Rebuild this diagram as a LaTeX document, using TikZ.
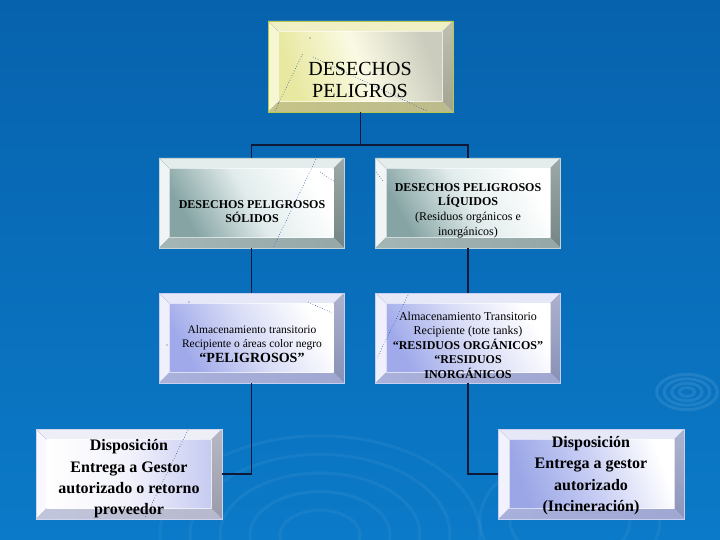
\documentclass[tikz,border=0pt]{standalone}
\usepackage{fontspec}
\setmainfont{Liberation Serif}
\usetikzlibrary{calc}
% colour sets: T top bevel, L left bevel, R right bevel, B bottom bevel, F/M/G face, D border
\definecolor{YT}{HTML}{F0F0C4}\definecolor{YL}{HTML}{F6F6D2}\definecolor{YR}{HTML}{A4A492}
\definecolor{YB}{HTML}{C6C488}\definecolor{YF}{HTML}{E8E8A0}\definecolor{YM}{HTML}{FAFAE4}
\definecolor{YG}{HTML}{CCCCBE}\definecolor{YD}{HTML}{B8C84C}
\definecolor{GT}{HTML}{E4ECEC}\definecolor{GL}{HTML}{F0F4F4}\definecolor{GR}{HTML}{748484}
\definecolor{GB}{HTML}{A4B6B6}\definecolor{GF}{HTML}{86A4A4}\definecolor{GM}{HTML}{E2ECEC}
\definecolor{GG}{HTML}{FFFFFF}\definecolor{GD}{HTML}{C4D4D4}
\definecolor{LT}{HTML}{E6E8F8}\definecolor{LL}{HTML}{F0F0FC}\definecolor{LR}{HTML}{8890B6}
\definecolor{LB}{HTML}{AAB2DC}\definecolor{LF}{HTML}{A0AAEA}\definecolor{LM}{HTML}{D8DCF6}
\definecolor{LG}{HTML}{FFFFFF}\definecolor{LD}{HTML}{C8CEF0}
\definecolor{WT}{HTML}{EEEEF6}\definecolor{WL}{HTML}{F8F8FE}\definecolor{WR}{HTML}{9A9AAA}
\definecolor{WB}{HTML}{C2C6DC}\definecolor{WF}{HTML}{FFFFFF}\definecolor{WM}{HTML}{F2F2FC}
\definecolor{WG}{HTML}{C6CAF0}\definecolor{WD}{HTML}{D0D4EC}
\definecolor{VT}{HTML}{E6E8F8}\definecolor{VL}{HTML}{F2F2FC}\definecolor{VR}{HTML}{8C94BA}
\definecolor{VB}{HTML}{A8B0DC}\definecolor{VF}{HTML}{9AA6E6}\definecolor{VM}{HTML}{C8CEF4}
\definecolor{VG}{HTML}{FFFFFF}\definecolor{VD}{HTML}{C8CEF0}
\definecolor{bgtop}{HTML}{0762AD}
\definecolor{bgbot}{HTML}{0B7AC8}
\definecolor{link}{HTML}{0E1838}
\definecolor{dots}{HTML}{1C4C9C}
\colorlet{bT}{GT}\colorlet{bL}{GL}\colorlet{bR}{GR}\colorlet{bB}{GB}
\colorlet{bF}{GF}\colorlet{bM}{GM}\colorlet{bG}{GG}\colorlet{bD}{GD}
\def\bang{120}
\tikzset{
  kind/.code={\colorlet{bT}{#1T}\colorlet{bL}{#1L}\colorlet{bR}{#1R}\colorlet{bB}{#1B}%
    \colorlet{bF}{#1F}\colorlet{bM}{#1M}\colorlet{bG}{#1G}\colorlet{bD}{#1D}},
  fang/.code={\def\bang{#1}},
  bevbox/.style={draw=bD, line width=0.8pt, inner sep=0pt,
    minimum width=185pt, minimum height=90pt,
    path picture={
      \def\bw{10.5pt}
      \coordinate (pNW) at (path picture bounding box.north west);
      \coordinate (pNE) at (path picture bounding box.north east);
      \coordinate (pSW) at (path picture bounding box.south west);
      \coordinate (pSE) at (path picture bounding box.south east);
      \coordinate (iNW) at ([xshift=\bw,yshift=-\bw]pNW);
      \coordinate (iNE) at ([xshift=-\bw,yshift=-\bw]pNE);
      \coordinate (iSW) at ([xshift=\bw,yshift=\bw]pSW);
      \coordinate (iSE) at ([xshift=-\bw,yshift=\bw]pSE);
      \fill[bT] (pNW) -- (pNE) -- (iNE) -- (iNW) -- cycle;
      \fill[bL] (pNW) -- (iNW) -- (iSW) -- (pSW) -- cycle;
      \shade[top color=bR!70!white, bottom color=bR] (pNE) -- (pSE) -- (iSE) -- (iNE) -- cycle;
      \shade[left color=bB, right color=bB!70!bR] (pSW) -- (iSW) -- (iSE) -- (pSE) -- cycle;
      \shade[left color=bF, right color=bG, middle color=bM, shading angle=\bang]
        (iNW) rectangle (iSE);
      \draw[white, opacity=0.6, line width=0.4pt] (iNW) rectangle (iSE);
      \draw[bR!60!white, line width=0.3pt] (pNW) -- (iNW) (pNE) -- (iNE) (pSW) -- (iSW) (pSE) -- (iSE);
    }},
  txt/.style={align=center, inner sep=0pt, text=black},
  conn/.style={draw=link, line width=1.1pt},
  speck/.style={draw=dots, line width=0.6pt, dotted},
  ripple/.style={draw=white, opacity=0.05, line width=3pt}
}
\begin{document}
\begin{tikzpicture}[x=1pt,y=-1pt]
\useasboundingbox (0,0) rectangle (720,540);
\shade[top color=bgtop, bottom color=bgbot] (0,0) rectangle (720,540);
% faint ripples
\begin{scope}
\clip (0,0) rectangle (720,540);
\foreach \r in {8,16,24,32}{\draw[ripple, opacity=0.09] (687,392) ellipse ({\r*0.95} and {\r*0.55});}
\foreach \r in {40,70,100,130,160}{\draw[ripple] (320,535) ellipse ({\r} and {\r*0.62});}
\foreach \r in {60,90}{\draw[ripple] (570,520) ellipse ({\r} and {\r*0.7});}
\end{scope}

% boxes
\node[bevbox, kind=Y, fang=110, minimum height=91pt] (T) at (360.5,66.5) {};
\node[bevbox, kind=G, fang=120] (M1) at (251.5,203) {};
\node[bevbox, kind=G, fang=120] (M2) at (468,203) {};
\node[bevbox, kind=L, fang=120] (L1) at (251.5,338) {};
\node[bevbox, kind=L, fang=120] (L2) at (468,338) {};
\node[bevbox, kind=W, fang=90, minimum width=186pt] (B1) at (129,474) {};
\node[bevbox, kind=V, fang=110, minimum width=186pt] (B2) at (591.5,474) {};

% connectors
\coordinate (J) at (360.5,145);
\draw[conn] (T.south) -- (J);
\draw[conn] (M1.north) |- (J) -| (M2.north);
\draw[conn] (M1.south) -- (L1.north);
\draw[conn] (M2.south) -- (L2.north);
\draw[conn] (L1.south) |- (B1.east);
\draw[conn] (L2.south) |- (B2.west);

% stray dotted specks
\draw[speck] (275,111) -- (303,53);
\fill[dots] (310,38) circle (0.6);
\draw[speck] (313,57) -- (427,111);
\draw[speck] (317,157) -- (273,248);
\draw[speck] (320,172) -- (335,182);
\draw[speck] (408,295) -- (377,358);
\draw[speck] (308,302) -- (332,313);
\fill[dots] (189,302) circle (0.6);
\fill[dots] (167,345) circle (0.6);
\draw[speck] (188,430) -- (145,518);
\draw[speck] (376,172) -- (384,182);

% texts
\node[txt, font=\fontsize{20}{22.5}\selectfont] (Tt) at (360,80) {DESECHOS\\PELIGROS};
\node[txt, font=\bfseries\fontsize{12}{13.5}\selectfont] (M1t) at (252,211.5) {DESECHOS PELIGROSOS\\SÓLIDOS};
\node[txt, font=\fontsize{12}{14.6}\selectfont] (M2t) at (468,210.5)
  {\textbf{DESECHOS PELIGROSOS}\\\textbf{LÍQUIDOS}\\(Residuos orgánicos e\\inorgánicos)};
\node[txt, font=\fontsize{11.5}{14}\selectfont] (L1t) at (252,344)
  {Almacenamiento transitorio\\Recipiente o áreas color negro\\[1.5pt]{\bfseries\fontsize{14}{16}\selectfont “PELIGROSOS”}};
\node[txt, font=\fontsize{12}{14.5}\selectfont] (L2t) at (468,345)
  {Almacenamiento Transitorio\\Recipiente (tote tanks)\\\textbf{“RESIDUOS ORGÁNICOS”}\\\textbf{“RESIDUOS}\\\textbf{INORGÁNICOS}};
\node[txt, font=\bfseries\fontsize{16}{21.3}\selectfont] (B1t) at (129,479)
  {Disposición\\Entrega a Gestor\\autorizado o retorno\\proveedor};
\node[txt, font=\bfseries\fontsize{16}{21.5}\selectfont] (B2t) at (591,475.5)
  {Disposición\\Entrega a gestor\\autorizado\\(Incineración)};
\end{tikzpicture}
\end{document}
